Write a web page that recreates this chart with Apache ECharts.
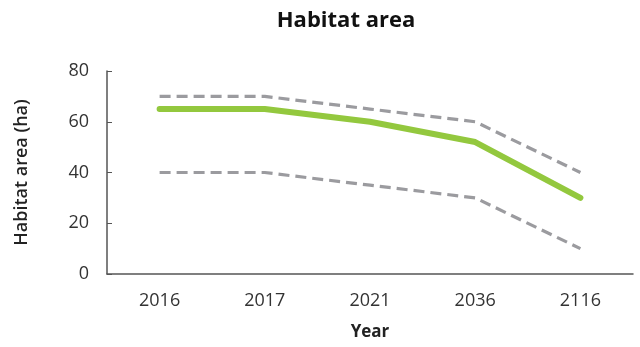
<!DOCTYPE html>
<html><head><meta charset="utf-8">
<script src="https://cdn.jsdelivr.net/npm/echarts@6/dist/echarts.min.js"></script>
<style>html,body{margin:0;padding:0;background:#fff}#c{width:640px;height:347px}</style>
</head><body><div id="c"></div>
<script>
const years = ['2016','2017','2021','2036','2116'];
const central = [65, 65, 60, 52, 30];
const upper = [70, 70, 65, 60, 40];
const lower = [40, 40, 35, 30, 10];
const yTicks = [0, 20, 40, 60, 80];

const font = '"Open Sans", Lato, sans-serif';
const chart = echarts.init(document.getElementById('c'), null, {renderer:'canvas'});
const dashed = (name, data) => ({
  name, type:'line', data, symbol:'none', z:2,
  lineStyle:{color:'#9b9b9f', width:3.2, type:[11,6]}
});
chart.setOption({
  animation:false,
  title:{text:'Habitat area', left:341, top:5, textAlign:'center',
    textStyle:{fontFamily:font, fontWeight:'bold', fontSize:22, color:'#111'}},
  grid:{left:107, right:7, top:71, bottom:73},
  xAxis:{type:'category', data:years, boundaryGap:true,
    name:'Year', nameLocation:'middle', nameGap:50,
    nameTextStyle:{fontFamily:font, fontWeight:'bold', fontSize:17, color:'#222'},
    axisLine:{lineStyle:{color:'#555', width:1.5}},
    axisTick:{inside:true, alignWithLabel:true, length:5, lineStyle:{color:'#555'}},
    axisLabel:{fontFamily:font, fontSize:18, color:'#333', margin:18}},
  yAxis:{type:'value', min:0, max:80, interval:20,
    name:'Habitat area (ha)', nameLocation:'middle', nameGap:76,
    nameTextStyle:{fontFamily:font, fontWeight:600, fontSize:18, color:'#222'},
    axisLine:{show:true, lineStyle:{color:'#555', width:1.5}},
    axisTick:{show:true, inside:true, length:5, lineStyle:{color:'#555'}},
    splitLine:{show:false},
    axisLabel:{fontFamily:font, fontSize:18, color:'#333', margin:18,
      customValues: yTicks}},
  series:[
    dashed('Upper', upper),
    dashed('Lower', lower),
    {name:'Habitat area', type:'line', data:central, symbol:'none', z:3,
     lineStyle:{color:'#93c83e', width:6, cap:'round'}}
  ]
});
</script></body></html>
